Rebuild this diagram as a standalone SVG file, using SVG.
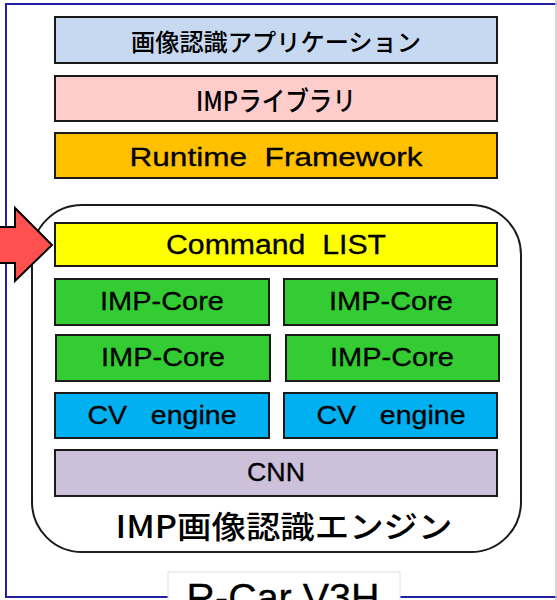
<svg xmlns="http://www.w3.org/2000/svg" width="557" height="600" viewBox="0 0 557 600">
  <style>
    .blk { stroke: #1a1a1a; stroke-width: 2; }
    .lbl { font-family: "Liberation Sans", "Noto Sans CJK JP", Arial, sans-serif; fill: #000; text-anchor: middle; stroke: #000; stroke-width: 0.3; }
    .jp { font-family: "Noto Sans CJK JP", "Liberation Sans", sans-serif; fill: #000; text-anchor: middle; font-weight: 500; }
  </style>

  <!-- page background and chip frame -->
  <rect x="0" y="0" width="557" height="600" fill="#ffffff"/>
  <rect x="6" y="4" width="560" height="593" fill="none" stroke="#2020a0" stroke-width="2"/>
  <line x1="556" y1="0" x2="556" y2="600" stroke="#c8c8c8" stroke-width="1.5"/>

  <!-- software stack -->
  <g id="app">
    <rect x="55" y="17" width="442" height="46" fill="#c6d9f1" class="blk"/>
    <text x="276" y="51" class="jp" font-size="24" textLength="290" lengthAdjust="spacingAndGlyphs">画像認識アプリケーション</text>
  </g>
  <g id="imp-lib">
    <rect x="55" y="76" width="442" height="45" fill="#ffcccc" class="blk"/>
    <text x="276" y="111" class="jp" font-size="27" textLength="160" lengthAdjust="spacingAndGlyphs">IMPライブラリ</text>
  </g>
  <g id="runtime">
    <rect x="55" y="133" width="442" height="45" fill="#ffc000" class="blk"/>
    <text x="276" y="166" class="lbl" font-size="26" textLength="293" lengthAdjust="spacingAndGlyphs">Runtime&#160; Framework</text>
  </g>

  <!-- IMP engine container -->
  <g id="imp-engine">
    <rect x="32" y="205" width="489" height="347" rx="50" ry="50" fill="#ffffff" stroke="#1a1a1a" stroke-width="2"/>
    <text x="284" y="538" class="jp" font-size="31" textLength="337" lengthAdjust="spacingAndGlyphs">IMP画像認識エンジン</text>
  </g>

  <g id="command-list">
    <rect x="55" y="223" width="442" height="43" fill="#ffff00" class="blk"/>
    <text x="276" y="254" class="lbl" font-size="27" textLength="220" lengthAdjust="spacingAndGlyphs">Command&#160; LIST</text>
  </g>

  <g id="imp-core-1">
    <rect x="55" y="279" width="214" height="46" fill="#33cc33" class="blk"/>
    <text x="162" y="310" class="lbl" font-size="26" textLength="124" lengthAdjust="spacingAndGlyphs">IMP-Core</text>
  </g>
  <g id="imp-core-2">
    <rect x="284" y="279" width="213" height="46" fill="#33cc33" class="blk"/>
    <text x="391" y="310" class="lbl" font-size="26" textLength="124" lengthAdjust="spacingAndGlyphs">IMP-Core</text>
  </g>
  <g id="imp-core-3">
    <rect x="56" y="335" width="214" height="46" fill="#33cc33" class="blk"/>
    <text x="163" y="366" class="lbl" font-size="26" textLength="124" lengthAdjust="spacingAndGlyphs">IMP-Core</text>
  </g>
  <g id="imp-core-4">
    <rect x="286" y="335" width="213" height="46" fill="#33cc33" class="blk"/>
    <text x="392" y="366" class="lbl" font-size="26" textLength="124" lengthAdjust="spacingAndGlyphs">IMP-Core</text>
  </g>

  <g id="cv-engine-1">
    <rect x="55" y="393" width="214" height="45" fill="#00b0f0" class="blk"/>
    <text x="162" y="424" class="lbl" font-size="26" textLength="149" lengthAdjust="spacingAndGlyphs">CV&#160;&#160; engine</text>
  </g>
  <g id="cv-engine-2">
    <rect x="284" y="393" width="213" height="45" fill="#00b0f0" class="blk"/>
    <text x="391" y="424" class="lbl" font-size="26" textLength="149" lengthAdjust="spacingAndGlyphs">CV&#160;&#160; engine</text>
  </g>

  <g id="cnn">
    <rect x="55" y="450" width="442" height="46" fill="#ccc0da" class="blk"/>
    <text x="276" y="481" class="lbl" font-size="26" textLength="58" lengthAdjust="spacingAndGlyphs">CNN</text>
  </g>

  <!-- input arrow into the command list -->
  <g id="connectors">
    <polygon points="-4,227 15,227 15,208 52,245 15,281 15,263 -4,263" fill="#ff5050" stroke="#000" stroke-width="2" stroke-linejoin="miter"/>
  </g>

  <!-- chip name tag on the frame edge -->
  <g id="chip-name">
    <rect x="168" y="572" width="232" height="40" fill="#ffffff" stroke="#e0e0e0" stroke-width="1"/>
    <text x="283" y="611" class="lbl" font-size="39" textLength="193" lengthAdjust="spacingAndGlyphs">R-Car V3H</text>
  </g>
</svg>
